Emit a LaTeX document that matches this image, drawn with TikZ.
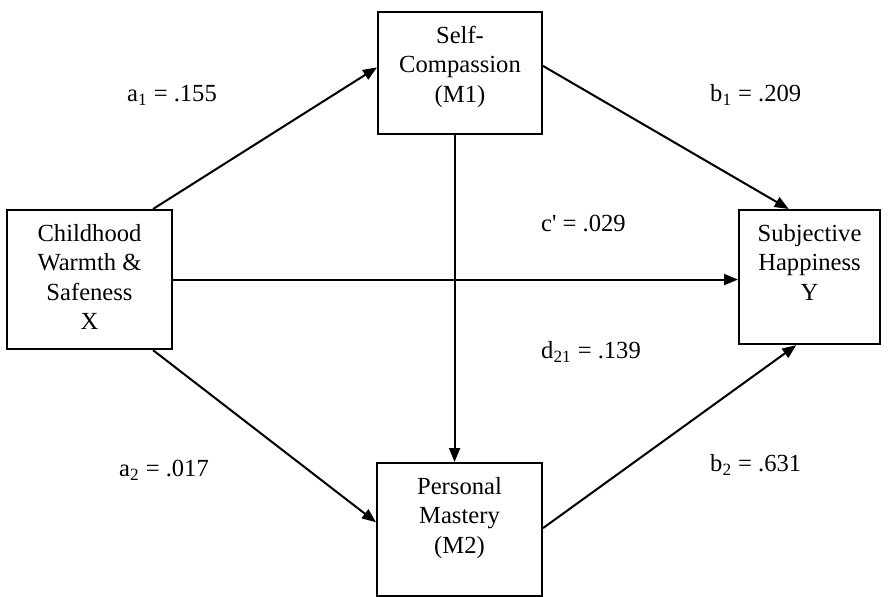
\documentclass[tikz,border=0pt]{standalone}
\usepackage{fontspec}
\setmainfont{Liberation Serif}
\usetikzlibrary{arrows.meta}

\begin{document}
\begin{tikzpicture}[font=\fontsize{14}{16.8}\selectfont,
    varbox/.style={draw,line width=1.15pt,align=center,anchor=north,inner sep=0.28cm},
    effect/.style={line width=1.15pt,-{Triangle[length=0.28cm,width=0.22cm]}}]
    \useasboundingbox (0cm,0cm) rectangle (17.9cm,11.92cm);

    \node[varbox,minimum width=3.3cm,text depth=0.11cm] (warmth) at (1.79cm,7.74cm)
    {Childhood\\Warmth \&\\Safeness\\X};
    \node[varbox,minimum width=3.28cm,text depth=0.36cm] (compassion) at (9.2cm,11.7cm)
    {Self-\\Compassion\\(M1)};
    \node[varbox,minimum width=3.3cm,text depth=0.58cm] (mastery) at (9.19cm,2.68cm)
    {Personal\\Mastery\\(M2)};
    \node[varbox,minimum width=2.82cm,text depth=0.6cm] (happiness) at (16.19cm,7.74cm)
    {Subjective\\Happiness\\Y};

    \draw[effect] (warmth.48) -- (compassion.176);
    \draw[effect] (warmth.-48) -- (mastery.175);
    \draw[effect] (warmth.east) -- (warmth.east -| happiness.west);
    \draw[effect] (compassion.5) -- (happiness.107);
    \draw[effect] (mastery.1) -- (happiness.259);
    \draw[effect] (compassion.-95) -- (compassion.-95 |- mastery.north);

    \node[anchor=west] (a1) at (2.42cm,10.02cm) {a\textsubscript{1} = .155};
    \node[anchor=west] (b1) at (14.08cm,10.02cm) {b\textsubscript{1} = .209};
    \node[anchor=west] (cdirect) at (10.7cm,7.46cm) {c\textquotesingle{} = .029};
    \node[anchor=west] (d21) at (10.7cm,4.88cm) {d\textsubscript{21} = .139};
    \node[anchor=west] (a2) at (2.26cm,2.52cm) {a\textsubscript{2} = .017};
    \node[anchor=west] (b2) at (14.08cm,2.62cm) {b\textsubscript{2} = .631};
\end{tikzpicture}
\end{document}
